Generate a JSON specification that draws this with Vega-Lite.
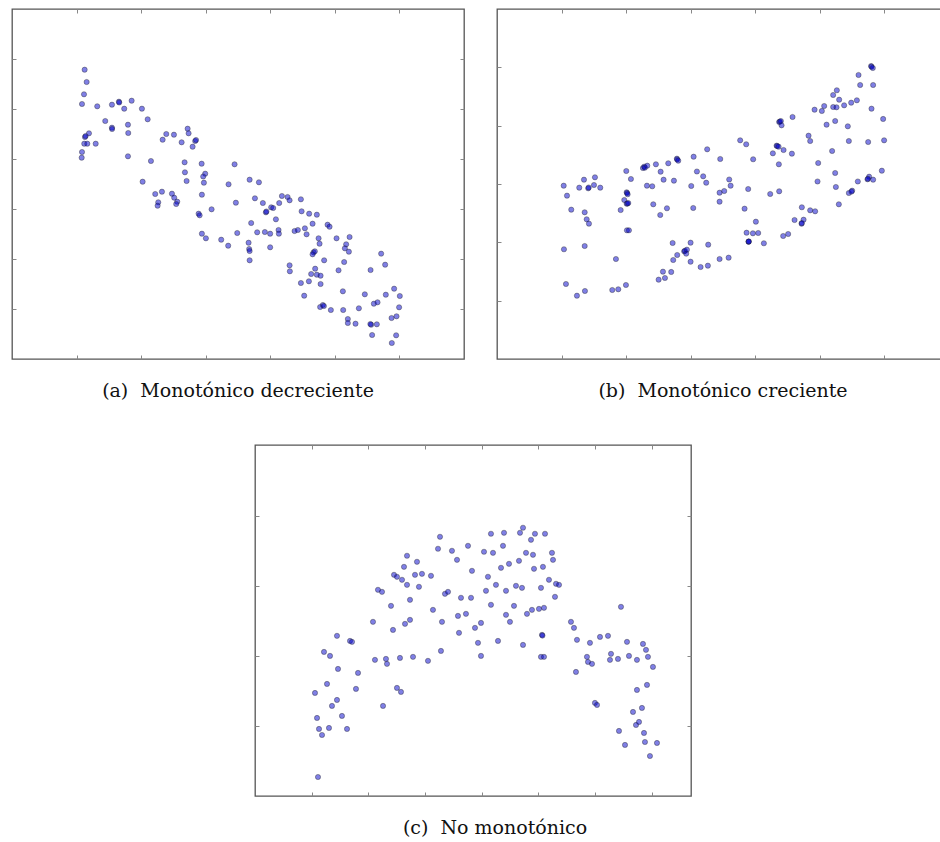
{
  "$schema": "https://vega.github.io/schema/vega-lite/v6.json",
  "padding": {"left": 10, "top": 7, "right": 0, "bottom": 0},
  "background": "white",
  "datasets": {
    "a": [
      {"x":1.125,"y":5.786},{"x":1.156,"y":5.54},{"x":1.115,"y":5.294},{"x":1.084,"y":5.10},{"x":1.320,"y":5.054},
      {"x":1.548,"y":5.086},{"x":1.656,"y":5.146},{"x":1.66,"y":5.13},{"x":1.853,"y":5.166},{"x":1.738,"y":5.006},
      {"x":2.012,"y":5.006},{"x":2.101,"y":4.794},{"x":1.444,"y":4.76},{"x":1.548,"y":4.626},{"x":1.55,"y":4.60},
      {"x":1.796,"y":4.686},{"x":1.800,"y":4.52},{"x":1.192,"y":4.514},{"x":1.130,"y":4.44},{"x":1.14,"y":4.46},
      {"x":1.119,"y":4.306},{"x":1.166,"y":4.306},{"x":1.296,"y":4.306},{"x":1.084,"y":4.14},{"x":1.079,"y":4.026},
      {"x":1.796,"y":4.054},{"x":2.152,"y":3.96},{"x":2.333,"y":4.386},{"x":2.389,"y":4.50},{"x":2.508,"y":4.486},
      {"x":2.627,"y":4.334},{"x":2.720,"y":4.606},{"x":2.735,"y":4.514},{"x":2.837,"y":4.36},{"x":2.85,"y":4.38},
      {"x":2.797,"y":4.246},{"x":2.673,"y":3.934},{"x":2.937,"y":3.906},{"x":2.678,"y":3.734},{"x":2.992,"y":3.706},
      {"x":2.961,"y":3.65},{"x":2.023,"y":3.546},{"x":2.704,"y":3.56},{"x":2.972,"y":3.526},{"x":3.354,"y":3.494},
      {"x":2.218,"y":3.30},{"x":2.322,"y":3.346},{"x":2.477,"y":3.306},{"x":2.512,"y":3.226},{"x":2.265,"y":3.134},
      {"x":2.255,"y":3.066},{"x":2.559,"y":3.146},{"x":2.543,"y":3.10},{"x":2.941,"y":3.286},{"x":2.890,"y":2.906},
      {"x":2.906,"y":2.874},{"x":3.091,"y":2.994},{"x":2.941,"y":2.506},{"x":3.003,"y":2.414},{"x":3.240,"y":2.386},
      {"x":3.348,"y":2.266},{"x":3.680,"y":3.586},{"x":3.824,"y":3.534},{"x":3.467,"y":3.126},{"x":3.762,"y":3.214},
      {"x":3.885,"y":3.12},{"x":3.932,"y":2.934},{"x":3.94,"y":2.95},{"x":4.014,"y":3.034},{"x":4.045,"y":3.02},
      {"x":4.180,"y":3.26},{"x":4.268,"y":3.24},{"x":4.299,"y":3.174},{"x":4.138,"y":3.12},{"x":4.474,"y":3.194},
      {"x":4.087,"y":2.794},{"x":4.485,"y":2.954},{"x":4.602,"y":2.906},{"x":4.721,"y":2.886},{"x":3.704,"y":2.72},
      {"x":3.447,"y":3.894},{"x":3.488,"y":2.52},{"x":3.797,"y":2.534},{"x":3.916,"y":2.54},{"x":3.998,"y":2.506},
      {"x":4.128,"y":2.58},{"x":4.133,"y":2.506},{"x":4.376,"y":2.56},{"x":4.427,"y":2.58},{"x":4.536,"y":2.614},
      {"x":4.562,"y":2.494},{"x":4.655,"y":2.706},{"x":4.887,"y":2.686},{"x":4.918,"y":2.646},{"x":3.664,"y":2.326},
      {"x":3.673,"y":2.20},{"x":3.680,"y":2.16},{"x":3.680,"y":1.974},{"x":3.998,"y":2.234},{"x":4.748,"y":2.414},
      {"x":4.763,"y":2.306},{"x":4.670,"y":2.134},{"x":4.690,"y":2.154},{"x":4.655,"y":2.094},{"x":5.026,"y":2.414},
      {"x":5.228,"y":2.44},{"x":5.175,"y":2.294},{"x":5.155,"y":2.214},{"x":5.217,"y":2.146},{"x":4.834,"y":1.974},
      {"x":5.144,"y":1.94},{"x":4.299,"y":1.874},{"x":4.303,"y":1.754},{"x":4.695,"y":1.806},{"x":4.633,"y":1.70},
      {"x":4.721,"y":1.686},{"x":4.779,"y":1.666},{"x":5.057,"y":1.774},{"x":4.474,"y":1.52},{"x":4.598,"y":1.554},
      {"x":4.779,"y":1.50},{"x":4.525,"y":1.266},{"x":5.717,"y":2.106},{"x":5.779,"y":1.886},{"x":5.553,"y":1.78},
      {"x":5.124,"y":1.354},{"x":5.464,"y":1.294},{"x":5.918,"y":1.406},{"x":5.789,"y":1.286},{"x":6.006,"y":1.26},
      {"x":5.604,"y":1.106},{"x":5.661,"y":1.134},{"x":5.995,"y":1.034},{"x":4.772,"y":1.04},{"x":4.814,"y":1.08},
      {"x":4.83,"y":1.06},{"x":4.938,"y":0.98},{"x":5.129,"y":0.98},{"x":5.372,"y":1.014},{"x":5.201,"y":0.80},
      {"x":5.201,"y":0.72},{"x":5.320,"y":0.706},{"x":5.562,"y":0.686},{"x":5.55,"y":0.70},{"x":5.650,"y":0.694},
      {"x":5.955,"y":0.854},{"x":5.878,"y":0.82},{"x":5.577,"y":0.48},{"x":5.949,"y":0.474},{"x":5.882,"y":0.32}
    ],
    "b": [
      {"x":1.347,"y":3.074},{"x":1.517,"y":3.115},{"x":2.002,"y":3.223},{"x":2.074,"y":3.086},{"x":2.260,"y":3.274},
      {"x":2.280,"y":3.297},{"x":2.29,"y":3.28},{"x":2.327,"y":3.314},{"x":2.461,"y":3.338},{"x":2.534,"y":3.211},
      {"x":2.580,"y":3.074},{"x":2.652,"y":3.355},{"x":2.740,"y":3.057},{"x":2.786,"y":3.434},{"x":2.79,"y":3.42},
      {"x":2.807,"y":3.400},{"x":3.045,"y":3.468},{"x":3.255,"y":3.595},{"x":3.096,"y":3.214},{"x":3.193,"y":3.132},
      {"x":3.457,"y":3.429},{"x":1.033,"y":2.971},{"x":1.084,"y":2.800},{"x":1.274,"y":2.937},{"x":1.413,"y":2.926},
      {"x":1.42,"y":2.94},{"x":1.502,"y":2.983},{"x":1.599,"y":2.937},{"x":1.150,"y":2.560},{"x":1.358,"y":2.515},
      {"x":1.389,"y":2.395},{"x":1.424,"y":2.320},{"x":2.008,"y":2.858},{"x":2.015,"y":2.845},{"x":2.023,"y":2.824},
      {"x":1.971,"y":2.726},{"x":2.008,"y":2.662},{"x":2.02,"y":2.665},{"x":2.033,"y":2.674},{"x":1.915,"y":2.554},
      {"x":2.012,"y":2.206},{"x":2.043,"y":2.206},{"x":2.322,"y":2.971},{"x":2.404,"y":2.961},{"x":3.008,"y":2.966},
      {"x":3.240,"y":3.022},{"x":2.420,"y":2.652},{"x":2.632,"y":2.584},{"x":2.528,"y":2.469},{"x":3.039,"y":2.589},
      {"x":3.447,"y":2.851},{"x":3.447,"y":2.697},{"x":1.037,"y":1.881},{"x":1.358,"y":1.937},{"x":1.842,"y":1.714},
      {"x":2.720,"y":1.989},{"x":2.998,"y":1.994},{"x":3.271,"y":1.960},{"x":2.899,"y":1.846},{"x":2.91,"y":1.855},
      {"x":2.941,"y":1.874},{"x":2.930,"y":1.805},{"x":2.791,"y":1.783},{"x":2.729,"y":1.697},{"x":2.998,"y":1.668},
      {"x":3.153,"y":1.577},{"x":3.266,"y":1.600},{"x":3.447,"y":1.714},{"x":2.570,"y":1.497},{"x":2.698,"y":1.492},
      {"x":2.503,"y":1.360},{"x":2.601,"y":1.389},{"x":1.068,"y":1.286},{"x":1.238,"y":1.085},{"x":1.362,"y":1.166},
      {"x":1.785,"y":1.183},{"x":1.878,"y":1.195},{"x":1.997,"y":1.269},{"x":5.794,"y":5.023},{"x":5.80,"y":5.01},
      {"x":5.820,"y":4.989},{"x":5.599,"y":4.869},{"x":5.624,"y":4.697},{"x":5.825,"y":4.697},{"x":5.263,"y":4.607},
      {"x":5.206,"y":4.526},{"x":5.299,"y":4.445},{"x":5.573,"y":4.435},{"x":5.485,"y":4.394},{"x":5.376,"y":4.349},
      {"x":5.067,"y":4.337},{"x":5.206,"y":4.320},{"x":5.258,"y":4.315},{"x":4.918,"y":4.274},{"x":5.031,"y":4.252},
      {"x":5.800,"y":4.291},{"x":5.980,"y":4.115},{"x":4.577,"y":4.149},{"x":4.370,"y":4.063},{"x":4.38,"y":4.07},
      {"x":4.396,"y":4.080},{"x":4.407,"y":4.006},{"x":5.104,"y":4.017},{"x":5.237,"y":4.080},{"x":5.433,"y":3.989},
      {"x":4.825,"y":3.828},{"x":4.850,"y":3.737},{"x":5.449,"y":3.737},{"x":5.748,"y":3.720},{"x":5.995,"y":3.749},
      {"x":3.766,"y":3.749},{"x":3.859,"y":3.681},{"x":4.330,"y":3.657},{"x":4.34,"y":3.65},{"x":4.361,"y":3.640},
      {"x":4.438,"y":3.583},{"x":4.272,"y":3.526},{"x":4.567,"y":3.520},{"x":5.190,"y":3.566},{"x":3.967,"y":3.424},
      {"x":4.365,"y":3.338},{"x":4.974,"y":3.360},{"x":5.237,"y":3.189},{"x":5.960,"y":3.228},{"x":5.763,"y":3.125},
      {"x":5.738,"y":3.081},{"x":5.745,"y":3.09},{"x":5.825,"y":3.074},{"x":5.588,"y":3.043},{"x":3.596,"y":3.077},
      {"x":4.964,"y":3.043},{"x":5.248,"y":2.949},{"x":5.449,"y":2.846},{"x":5.500,"y":2.885},{"x":5.49,"y":2.87},
      {"x":5.294,"y":2.652},{"x":3.519,"y":2.880},{"x":3.618,"y":2.971},{"x":3.890,"y":2.914},{"x":4.231,"y":2.829},
      {"x":4.370,"y":2.875},{"x":3.834,"y":2.577},{"x":4.009,"y":2.354},{"x":3.865,"y":2.165},{"x":3.963,"y":2.155},
      {"x":4.045,"y":2.160},{"x":3.896,"y":2.011},{"x":3.896,"y":2.011},{"x":3.90,"y":2.015},{"x":4.133,"y":1.984},
      {"x":4.721,"y":2.601},{"x":4.850,"y":2.549},{"x":4.927,"y":2.532},{"x":4.608,"y":2.383},{"x":4.748,"y":2.388},
      {"x":4.717,"y":2.320},{"x":4.72,"y":2.33},{"x":4.432,"y":2.109},{"x":4.509,"y":2.143},{"x":3.587,"y":1.737}
    ],
    "c": [
      {"x":1.111,"y":0.271},{"x":1.058,"y":1.471},{"x":1.094,"y":1.114},{"x":1.129,"y":0.957},{"x":1.182,"y":0.871},
      {"x":1.217,"y":2.057},{"x":1.270,"y":1.6},{"x":1.323,"y":2.0},{"x":1.305,"y":0.971},{"x":1.358,"y":1.286},
      {"x":1.446,"y":1.371},{"x":1.464,"y":1.814},{"x":1.446,"y":2.286},{"x":1.534,"y":1.143},{"x":1.623,"y":0.957},
      {"x":1.676,"y":2.214},{"x":1.711,"y":2.2},{"x":1.781,"y":1.529},{"x":1.817,"y":1.757},{"x":2.081,"y":2.486},
      {"x":2.116,"y":1.943},{"x":2.169,"y":2.943},{"x":2.240,"y":2.914},{"x":2.258,"y":1.286},{"x":2.310,"y":1.957},
      {"x":2.328,"y":1.886},{"x":2.399,"y":2.714},{"x":2.434,"y":2.371},{"x":2.452,"y":3.157},{"x":2.504,"y":3.129},
      {"x":2.504,"y":1.543},{"x":2.575,"y":1.486},{"x":2.557,"y":1.971},{"x":2.593,"y":3.086},{"x":2.628,"y":3.271},
      {"x":2.681,"y":3.014},{"x":2.681,"y":3.429},{"x":2.646,"y":2.457},{"x":2.734,"y":2.514},{"x":2.734,"y":2.8},
      {"x":2.787,"y":1.986},{"x":2.822,"y":3.157},{"x":2.857,"y":3.343},{"x":2.892,"y":2.986},{"x":2.945,"y":3.171},
      {"x":3.051,"y":1.929},{"x":3.104,"y":3.143},{"x":3.139,"y":2.657},{"x":3.228,"y":3.529},{"x":3.263,"y":3.7},
      {"x":3.280,"y":2.071},{"x":3.298,"y":2.486},{"x":3.351,"y":2.886},{"x":3.404,"y":2.914},{"x":3.474,"y":3.5},
      {"x":3.563,"y":3.371},{"x":3.580,"y":2.571},{"x":3.598,"y":2.329},{"x":3.633,"y":2.829},{"x":3.721,"y":2.6},
      {"x":3.757,"y":3.571},{"x":3.810,"y":2.829},{"x":3.827,"y":3.214},{"x":3.880,"y":2.4},{"x":3.933,"y":2.186},
      {"x":3.986,"y":2.471},{"x":3.986,"y":2.0},{"x":4.039,"y":3.486},{"x":4.074,"y":2.929},{"x":4.109,"y":3.129},
      {"x":4.162,"y":3.743},{"x":4.162,"y":2.729},{"x":4.198,"y":3.471},{"x":4.250,"y":3.014},{"x":4.286,"y":2.214},
      {"x":4.339,"y":3.257},{"x":4.374,"y":3.571},{"x":4.392,"y":3.757},{"x":4.427,"y":2.586},{"x":4.427,"y":2.929},
      {"x":4.480,"y":3.314},{"x":4.497,"y":2.486},{"x":4.568,"y":2.714},{"x":4.603,"y":3.0},{"x":4.656,"y":3.357},
      {"x":4.674,"y":3.757},{"x":4.709,"y":2.971},{"x":4.727,"y":3.829},{"x":4.727,"y":2.157},{"x":4.780,"y":3.471},
      {"x":4.797,"y":2.6},{"x":4.868,"y":3.657},{"x":4.885,"y":2.657},{"x":4.903,"y":3.443},{"x":4.921,"y":3.243},
      {"x":4.938,"y":3.743},{"x":5.009,"y":2.671},{"x":5.044,"y":2.971},{"x":5.044,"y":1.986},{"x":5.062,"y":2.3},
      {"x":5.07,"y":2.29},{"x":5.079,"y":3.271},{"x":5.097,"y":1.986},{"x":5.097,"y":2.686},{"x":5.115,"y":3.743},
      {"x":5.185,"y":3.086},{"x":5.238,"y":3.471},{"x":5.256,"y":3.371},{"x":5.291,"y":2.843},{"x":5.309,"y":3.029},
      {"x":5.362,"y":3.014},{"x":5.573,"y":2.486},{"x":5.626,"y":2.4},{"x":5.661,"y":1.771},{"x":5.679,"y":2.229},
      {"x":5.855,"y":1.986},{"x":5.873,"y":1.914},{"x":5.908,"y":2.186},{"x":5.944,"y":1.886},{"x":5.996,"y":1.329},
      {"x":6.032,"y":1.3},{"x":6.085,"y":2.271},{"x":6.226,"y":2.286},{"x":6.261,"y":1.943},{"x":6.279,"y":2.029},
      {"x":6.402,"y":1.957},{"x":6.420,"y":0.929},{"x":6.455,"y":2.7},{"x":6.526,"y":0.729},{"x":6.561,"y":2.2},
      {"x":6.596,"y":2.0},{"x":6.667,"y":1.2},{"x":6.720,"y":1.014},{"x":6.737,"y":1.943},{"x":6.737,"y":1.514},
      {"x":6.773,"y":1.057},{"x":6.825,"y":1.257},{"x":6.843,"y":2.171},{"x":6.861,"y":0.9},{"x":6.878,"y":0.771},
      {"x":6.896,"y":2.086},{"x":6.914,"y":1.586},{"x":6.931,"y":1.986},{"x":6.966,"y":0.571},{"x":7.019,"y":1.843},
      {"x":7.090,"y":0.757}
    ]
  },
  "vconcat": [
    {
      "hconcat": [
        {
          "width": 452,
          "height": 350,
          "data": {"name": "a"},
          "title": {"text": "(a)\u00a0 Monotónico decreciente"},
          "layer": [
            {
              "mark": {"type": "circle", "size": 27, "fill": "#0000cc", "fillOpacity": 0.5, "stroke": "#222222", "strokeOpacity": 0.55, "strokeWidth": 0.7},
              "encoding": {
                "x": {"field": "x", "type": "quantitative", "title": null, "scale": {"domain": [0, 7], "nice": false, "zero": false}, "axis": {"orient": "bottom", "values": [1, 2, 3, 4, 5, 6]}},
                "y": {"field": "y", "type": "quantitative", "title": null, "scale": {"domain": [0, 7], "nice": false, "zero": false}, "axis": {"orient": "left", "values": [1, 2, 3, 4, 5, 6]}}
              }
            },
            {
              "mark": {"type": "circle", "opacity": 0},
              "encoding": {
                "x": {"field": "x", "type": "quantitative", "title": null, "axis": {"orient": "top", "values": [1, 2, 3, 4, 5, 6]}},
                "y": {"field": "y", "type": "quantitative", "title": null, "axis": {"orient": "right", "values": [1, 2, 3, 4, 5, 6]}}
              }
            }
          ],
          "resolve": {"axis": {"x": "independent", "y": "independent"}}
        },
        {
          "width": 452,
          "height": 350,
          "data": {"name": "b"},
          "title": {"text": "(b)\u00a0 Monotónico creciente"},
          "layer": [
            {
              "mark": {"type": "circle", "size": 27, "fill": "#0000cc", "fillOpacity": 0.5, "stroke": "#222222", "strokeOpacity": 0.55, "strokeWidth": 0.7},
              "encoding": {
                "x": {"field": "x", "type": "quantitative", "title": null, "scale": {"domain": [0, 7], "nice": false, "zero": false}, "axis": {"orient": "bottom", "values": [1, 2, 3, 4, 5, 6]}},
                "y": {"field": "y", "type": "quantitative", "title": null, "scale": {"domain": [0, 6], "nice": false, "zero": false}, "axis": {"orient": "left", "values": [1, 2, 3, 4, 5]}}
              }
            },
            {
              "mark": {"type": "circle", "opacity": 0},
              "encoding": {
                "x": {"field": "x", "type": "quantitative", "title": null, "axis": {"orient": "top", "values": [1, 2, 3, 4, 5, 6]}},
                "y": {"field": "y", "type": "quantitative", "title": null, "axis": {"orient": "right", "values": [1, 2, 3, 4, 5]}}
              }
            }
          ],
          "resolve": {"axis": {"x": "independent", "y": "independent"}}
        }
      ],
      "spacing": 33,
      "bounds": "flush",
      "resolve": {"scale": {"x": "independent", "y": "independent"}}
    },
    {
      "hconcat": [
        {
          "width": 210,
          "height": 351,
          "data": {"values": [{}]},
          "mark": {"type": "point", "opacity": 0},
          "encoding": {},
          "view": {"stroke": null}
        },
        {
          "width": 436,
          "height": 351,
          "data": {"name": "c"},
          "title": {"text": "(c)\u00a0 No monotónico", "dx": 22},
          "layer": [
            {
              "mark": {"type": "circle", "size": 27, "fill": "#0000cc", "fillOpacity": 0.5, "stroke": "#222222", "strokeOpacity": 0.55, "strokeWidth": 0.7},
              "encoding": {
                "x": {"field": "x", "type": "quantitative", "title": null, "scale": {"domain": [0, 7.69], "nice": false, "zero": false}, "axis": {"orient": "bottom", "values": [1, 2, 3, 4, 5, 6, 7]}},
                "y": {"field": "y", "type": "quantitative", "title": null, "scale": {"domain": [0, 5.01], "nice": false, "zero": false}, "axis": {"orient": "left", "values": [1, 2, 3, 4]}}
              }
            },
            {
              "mark": {"type": "circle", "opacity": 0},
              "encoding": {
                "x": {"field": "x", "type": "quantitative", "title": null, "axis": {"orient": "top", "values": [1, 2, 3, 4, 5, 6, 7]}},
                "y": {"field": "y", "type": "quantitative", "title": null, "axis": {"orient": "right", "values": [1, 2, 3, 4]}}
              }
            }
          ],
          "resolve": {"axis": {"x": "independent", "y": "independent"}}
        }
      ],
      "spacing": 33,
      "bounds": "flush",
      "resolve": {"scale": {"x": "independent", "y": "independent"}}
    }
  ],
  "spacing": 41,
  "resolve": {"scale": {"x": "independent", "y": "independent"}},
  "config": {
    "view": {"stroke": "#555555", "strokeWidth": 1.3},
    "axis": {"labels": false, "domain": false, "grid": false, "ticks": true, "tickSize": -4, "tickColor": "#888888", "tickWidth": 1},
    "title": {"orient": "bottom", "anchor": "middle", "font": "DejaVu Serif", "fontSize": 19, "fontWeight": "normal", "color": "#111111", "offset": 22, "baseline": "top"}
  }
}
